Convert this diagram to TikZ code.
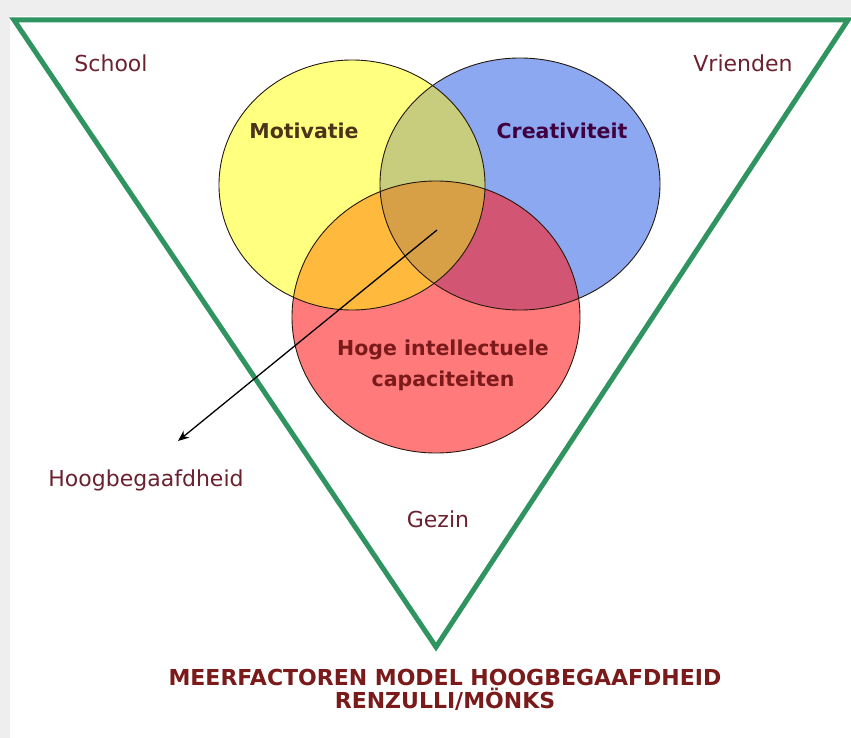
\documentclass[tikz,border=0pt]{standalone}
\usepackage{fontspec}
\setmainfont{DejaVu Sans}
\usetikzlibrary{arrows.meta}

\definecolor{backgray}{HTML}{EEEEEE}
\definecolor{kadergreen}{HTML}{2F9460}
\definecolor{labelred}{HTML}{6B2230}
\definecolor{titelred}{HTML}{7A1A1A}
\definecolor{motfill}{HTML}{FFFF80}
\definecolor{crefill}{HTML}{8CA8F0}
\definecolor{hogfill}{HTML}{FF7B7B}
\definecolor{motcre}{HTML}{C8CD7D}
\definecolor{mothog}{HTML}{FFB93C}
\definecolor{crehog}{HTML}{D25573}
\definecolor{allfill}{HTML}{D7A046}

\begin{document}
\begin{tikzpicture}[x=1pt,y=-1pt,
  buiten/.style={text=labelred,font=\fontsize{22}{26}\selectfont},
  binnen/.style={font=\bfseries\fontsize{20.5}{31}\selectfont,align=center},
  rand/.style={draw=black!80!brown,line width=0.9pt}]
\useasboundingbox (0,0) rectangle (851,738);
\fill[backgray] (0,0) rectangle (851,738);
\fill[white] (10,16) rectangle (851,738);

% the three factors
\def\motpath{(352,185) ellipse [x radius=133pt, y radius=125pt]}
\def\crepath{(520,184) ellipse [x radius=140pt, y radius=126pt]}
\def\hogpath{(436,317) ellipse [x radius=144pt, y radius=136pt]}
\fill[motfill] \motpath;
\fill[crefill] \crepath;
\fill[hogfill] \hogpath;
\begin{scope}
\clip \motpath;
\fill[motcre] \crepath;
\fill[mothog] \hogpath;
\end{scope}
\begin{scope}
\clip \crepath;
\fill[crehog] \hogpath;
\clip \motpath;
\fill[allfill] \hogpath;
\end{scope}
\draw[rand] \motpath;
\draw[rand] \crepath;
\draw[rand] \hogpath;

% surrounding triangle
\coordinate (links) at (14,20);
\coordinate (rechts) at (848,20);
\coordinate (onder) at (436,647);
\draw[kadergreen,line width=5pt,line join=miter] (links) -- (rechts) -- (onder) -- cycle;

% labels
\node[buiten] (school) at (111,63) {School};
\node[buiten] (vrienden) at (743,63) {Vrienden};
\node[buiten] (gezin) at (438,519) {Gezin};
\node[buiten] (hoogbeg) at (146,480) {Hoogbegaafdheid};
\node[binnen,text=black!60!brown] (motivatie) at (304,131) {Motivatie};
\node[binnen,text=violet!50!black] (creativiteit) at (562,131) {Creativiteit};
\node[binnen,text=titelred] (capaciteiten) at (443,365) {Hoge intellectuele\\capaciteiten};
\node[font=\bfseries\fontsize{22}{23}\selectfont,align=center,text=titelred] (titel) at (445,690)
  {MEERFACTOREN MODEL HOOGBEGAAFDHEID\\RENZULLI/MÖNKS};

% arrow from the overlap
\coordinate (kern) at (437,230);
\coordinate (pijl) at (178,441);
\draw[line width=1.3pt,-{Stealth[length=11pt,width=9pt]}] (kern) -- (pijl);
\end{tikzpicture}
\end{document}
